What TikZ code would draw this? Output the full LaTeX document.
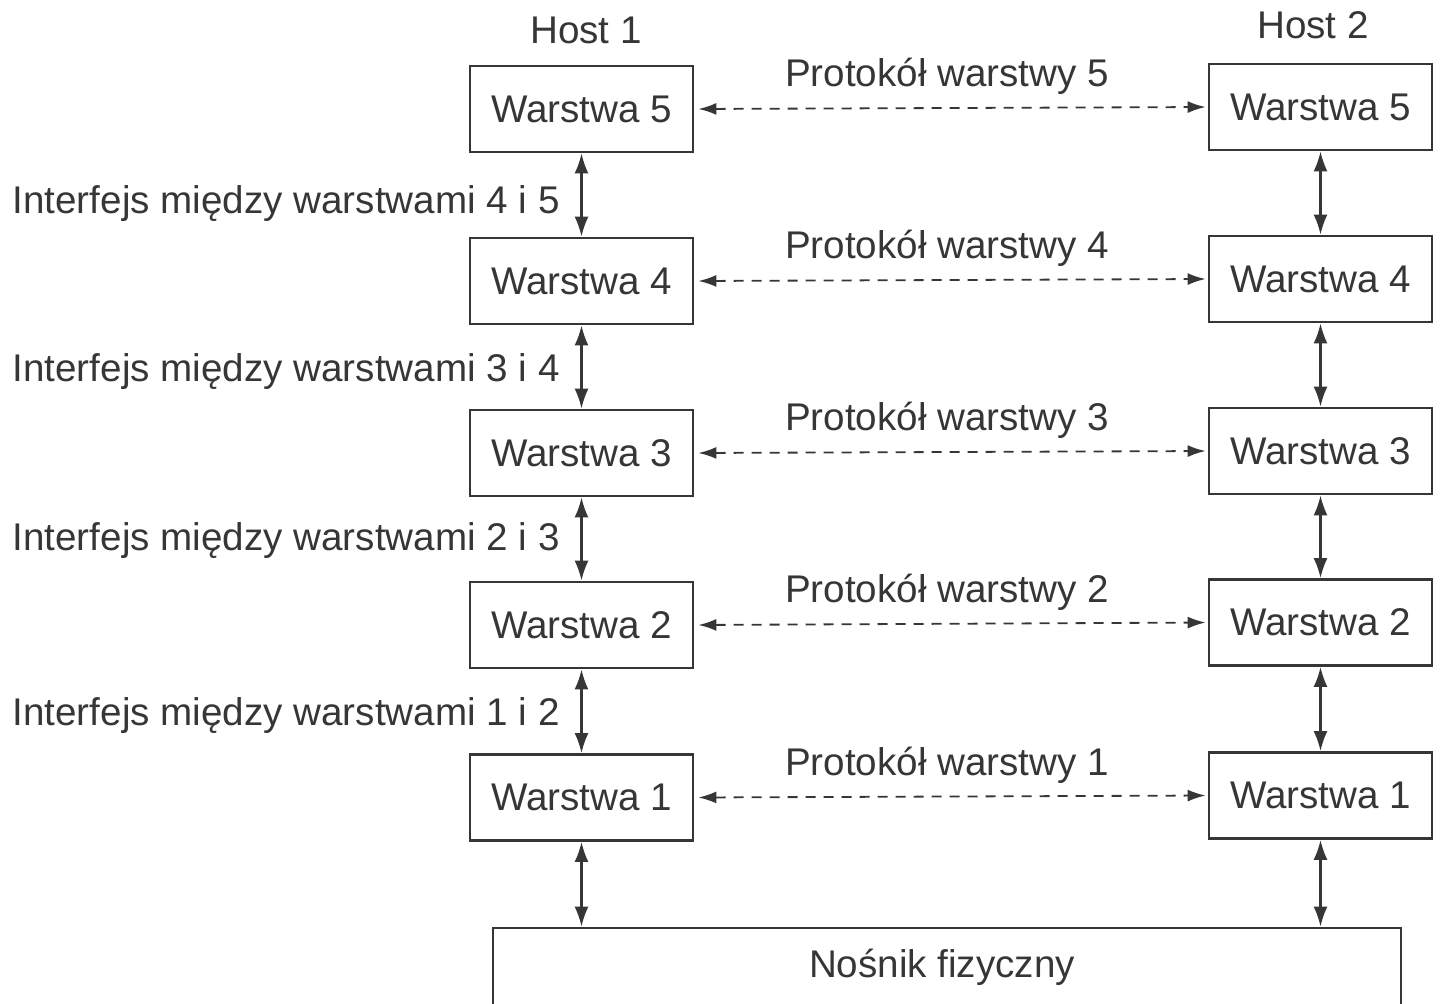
\documentclass[tikz,border=0pt]{standalone}
\usepackage{fontspec}
\setmainfont{Liberation Sans}
\usetikzlibrary{arrows.meta}
\definecolor{ink}{HTML}{363636}
\begin{document}
\begin{tikzpicture}[x=0.5pt,y=-0.5pt,
  every node/.style={text=ink, font=\fontsize{19.3}{22}\selectfont},
  layer/.style={draw=ink, line width=1.4pt, minimum width=111.5pt, minimum height=43pt, inner sep=0pt},
  iface/.style={draw=ink, line width=1.1pt, {Latex[length=10pt,width=7pt]}-{Latex[length=10pt,width=7pt]}},
  peer/.style={draw=ink, line width=0.9pt, dash pattern=on 5pt off 4pt,
    {Latex[length=9pt,width=6pt]}-{Latex[length=9pt,width=6pt]}, shorten <=2pt, shorten >=1pt},
  tag/.style={anchor=base, inner sep=0pt},
  side/.style={anchor=base east, inner sep=0pt}
]
\path[use as bounding box] (0,0) rectangle (1442,1003);

% column titles
\node[tag] (h1) at (586,43) {Host 1};
\node[tag] (h2) at (1313,38) {Host 2};

% layer stacks of both hosts
\foreach \n/\ly/\ry in {5/109/107, 4/281/279, 3/453/451, 2/625/622.5, 1/797.5/795.5} {
  \node[layer] (L\n) at (581.5,\ly) {Warstwa \n};
  \node[layer] (R\n) at (1320.5,\ry) {Warstwa \n};
}

% physical medium
\node[layer, minimum width=454pt, minimum height=41pt] (medium) at (947,969) {};
\node[tag] (mediumtext) at (942,977) {Nośnik fizyczny};

% interfaces between adjacent layers
\foreach \a/\b in {5/4, 4/3, 3/2, 2/1} {
  \draw[iface] (L\a.south) -- (L\b.north);
  \draw[iface] (R\a.south) -- (R\b.north);
}
\draw[iface] (L1.south) -- (L1.south |- medium.north);
\draw[iface] (R1.south) -- (R1.south |- medium.north);

% peer protocols
\foreach \n in {5,4,3,2,1} {
  \draw[peer] (L\n.east) -- (R\n.west);
}
\node[tag] (p5) at (947,86) {Protokół warstwy 5};
\node[tag] (p4) at (947,258) {Protokół warstwy 4};
\node[tag] (p3) at (947,430) {Protokół warstwy 3};
\node[tag] (p2) at (947,602) {Protokół warstwy 2};
\node[tag] (p1) at (947,775) {Protokół warstwy 1};

% interface captions
\node[side] (i45) at (560,213) {Interfejs między warstwami 4 i 5};
\node[side] (i34) at (560,381) {Interfejs między warstwami 3 i 4};
\node[side] (i23) at (560,550) {Interfejs między warstwami 2 i 3};
\node[side] (i12) at (560,725) {Interfejs między warstwami 1 i 2};
\end{tikzpicture}
\end{document}
